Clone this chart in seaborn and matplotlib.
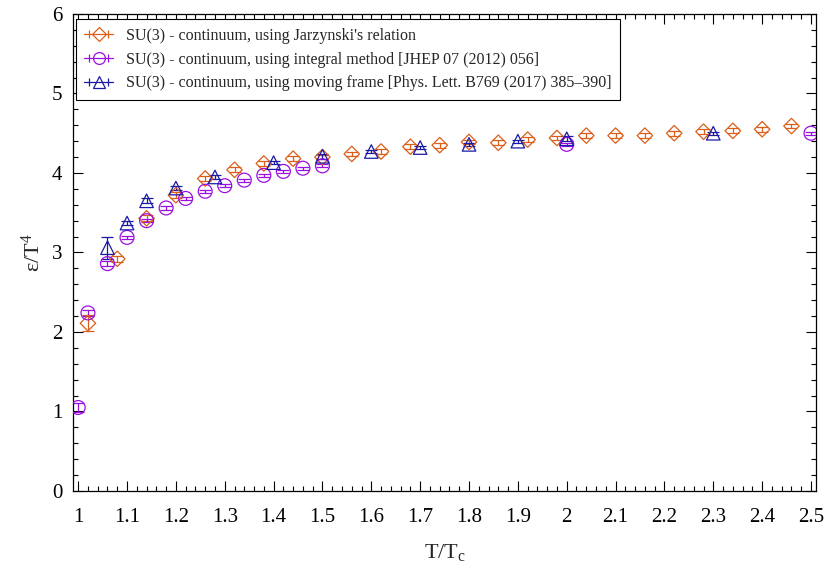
import matplotlib
matplotlib.use("Agg")
import matplotlib.pyplot as plt
import seaborn as sns
from matplotlib.lines import Line2D
from matplotlib.legend_handler import HandlerLine2D, HandlerTuple
from matplotlib.ticker import MultipleLocator

# Jarzynski's relation
jar_t = [1.02, 1.08, 1.14, 1.20, 1.26, 1.32, 1.38, 1.44, 1.50, 1.56, 1.62, 1.68, 1.74,
         1.80, 1.86, 1.92, 1.98, 2.04, 2.10, 2.16, 2.22, 2.28, 2.34, 2.40, 2.46]
jar_e = [2.11, 2.92, 3.43, 3.72, 3.93, 4.04, 4.12, 4.18, 4.20, 4.24, 4.27, 4.33, 4.35,
         4.39, 4.38, 4.42, 4.44, 4.47, 4.47, 4.47, 4.50, 4.52, 4.53, 4.55, 4.59]
jar_err = [0.10, 0.04, 0.04, 0.04, 0.03, 0.03, 0.03, 0.03, 0.03, 0.03, 0.03, 0.03, 0.03,
           0.03, 0.03, 0.03, 0.03, 0.03, 0.03, 0.03, 0.03, 0.03, 0.03, 0.03, 0.03]

# integral method
int_t = [1.00, 1.02, 1.06, 1.10, 1.14, 1.18, 1.22, 1.26, 1.30, 1.34, 1.38, 1.42, 1.46,
         1.50, 2.00, 2.50]
int_e = [1.05, 2.24, 2.86, 3.19, 3.40, 3.56, 3.68, 3.77, 3.84, 3.91, 3.97, 4.02, 4.06,
         4.09, 4.36, 4.50]
int_err = [0.06, 0.04, 0.03, 0.02, 0.02, 0.02, 0.02, 0.02, 0.02, 0.02, 0.02, 0.02, 0.02,
           0.02, 0.02, 0.02]

# moving frame
mov_t = [1.06, 1.10, 1.14, 1.20, 1.28, 1.40, 1.50, 1.60, 1.70, 1.80, 1.90, 2.00, 2.30]
mov_e = [3.06, 3.37, 3.65, 3.81, 3.95, 4.13, 4.21, 4.27, 4.32, 4.36, 4.40, 4.43, 4.50]
mov_err = [0.14, 0.03, 0.03, 0.03, 0.03, 0.02, 0.03, 0.02, 0.02, 0.02, 0.02, 0.03, 0.02]

labels = [
    "SU(3) - continuum, using Jarzynski's relation",
    "SU(3) - continuum, using integral method [JHEP 07 (2012) 056]",
    "SU(3) - continuum, using moving frame [Phys. Lett. B769 (2017) 385\u2013390]",
]

COLORS = ["#d95f1a", "#9b10e0", "#1a1aa6"]
MARKERS = ["D", "o", "^"]
SIZES = [62, 100, 95]

sns.set_theme(style="ticks")
plt.rcParams["font.family"] = ["Liberation Serif", "DejaVu Serif"]
plt.rcParams["mathtext.fontset"] = "custom"
plt.rcParams["mathtext.rm"] = "Liberation Serif"
plt.rcParams["mathtext.it"] = "Liberation Serif:italic"

fig = plt.figure(figsize=(8.3, 5.68), dpi=100)
ax = fig.add_axes([0.0883, 0.1356, 0.8947, 0.8398])

series = [(jar_t, jar_e, jar_err), (int_t, int_e, int_err), (mov_t, mov_e, mov_err)]
handles = []
hmap = {}
for (t, e, err), c, m, s in zip(series, COLORS, MARKERS, SIZES):
    ax.errorbar(t, e, yerr=err, fmt="none", ecolor=c, elinewidth=0.9,
                capsize=4.3, capthick=0.9, zorder=2)
    sns.scatterplot(x=t, y=e, marker=m, s=s, color=c, ax=ax, zorder=3, legend=False)
    coll = ax.collections[-1]
    coll.set_facecolor("none")
    coll.set_edgecolor(c)
    coll.set_linewidth(0.9)
    # gnuplot-style key sample: horizontal bar, end caps, marker in the middle
    mk = Line2D([], [], color=c, lw=0.9, marker=m, mfc="none", mec=c,
                ms=s ** 0.5 * 0.85, mew=0.9)
    caps = Line2D([], [], color=c, lw=0, marker="|", ms=5.5, mew=0.9)
    hmap[caps] = HandlerLine2D(numpoints=2)
    handles.append((mk, caps))

hmap[tuple] = HandlerTuple(ndivide=1, pad=0)
leg = ax.legend(handles, labels, handler_map=hmap, loc="upper left",
                bbox_to_anchor=(0.003, 0.99), borderaxespad=0, fontsize=11.5,
                frameon=True, fancybox=False, edgecolor="black", framealpha=1,
                handlelength=1.8, handletextpad=0.8, labelspacing=0.5,
                borderpad=0.55, numpoints=1)
leg.get_frame().set_linewidth(0.8)

ax.set_xlim(0.99, 2.51)
ax.set_ylim(0, 6)
ax.xaxis.set_minor_locator(MultipleLocator(0.02))
ax.yaxis.set_major_locator(MultipleLocator(1))
ax.yaxis.set_minor_locator(MultipleLocator(0.2))
ax.set_xticks([1.0, 1.1, 1.2, 1.3, 1.4, 1.5, 1.6, 1.7, 1.8, 1.9, 2.0, 2.1, 2.2, 2.3, 2.4, 2.5])
ax.set_xticklabels(["1", "1.1", "1.2", "1.3", "1.4", "1.5", "1.6", "1.7", "1.8", "1.9",
                    "2", "2.1", "2.2", "2.3", "2.4", "2.5"])
ax.tick_params(which="both", direction="in", top=True, right=True, width=0.8,
               colors="black", labelsize=15)
ax.tick_params(which="major", length=7)
ax.tick_params(which="minor", length=3.5)
ax.tick_params(axis="x", which="major", pad=12)
ax.tick_params(axis="y", which="major", pad=8)
for sp in ax.spines.values():
    sp.set_linewidth(0.9)
    sp.set_color("black")

ax.set_xlabel("T/$\\mathrm{T_c}$", fontsize=16, labelpad=11)
ax.set_ylabel("\u03b5/$\\mathrm{T^4}$", fontsize=16, labelpad=5)

fig.savefig("out.png", dpi=100)
